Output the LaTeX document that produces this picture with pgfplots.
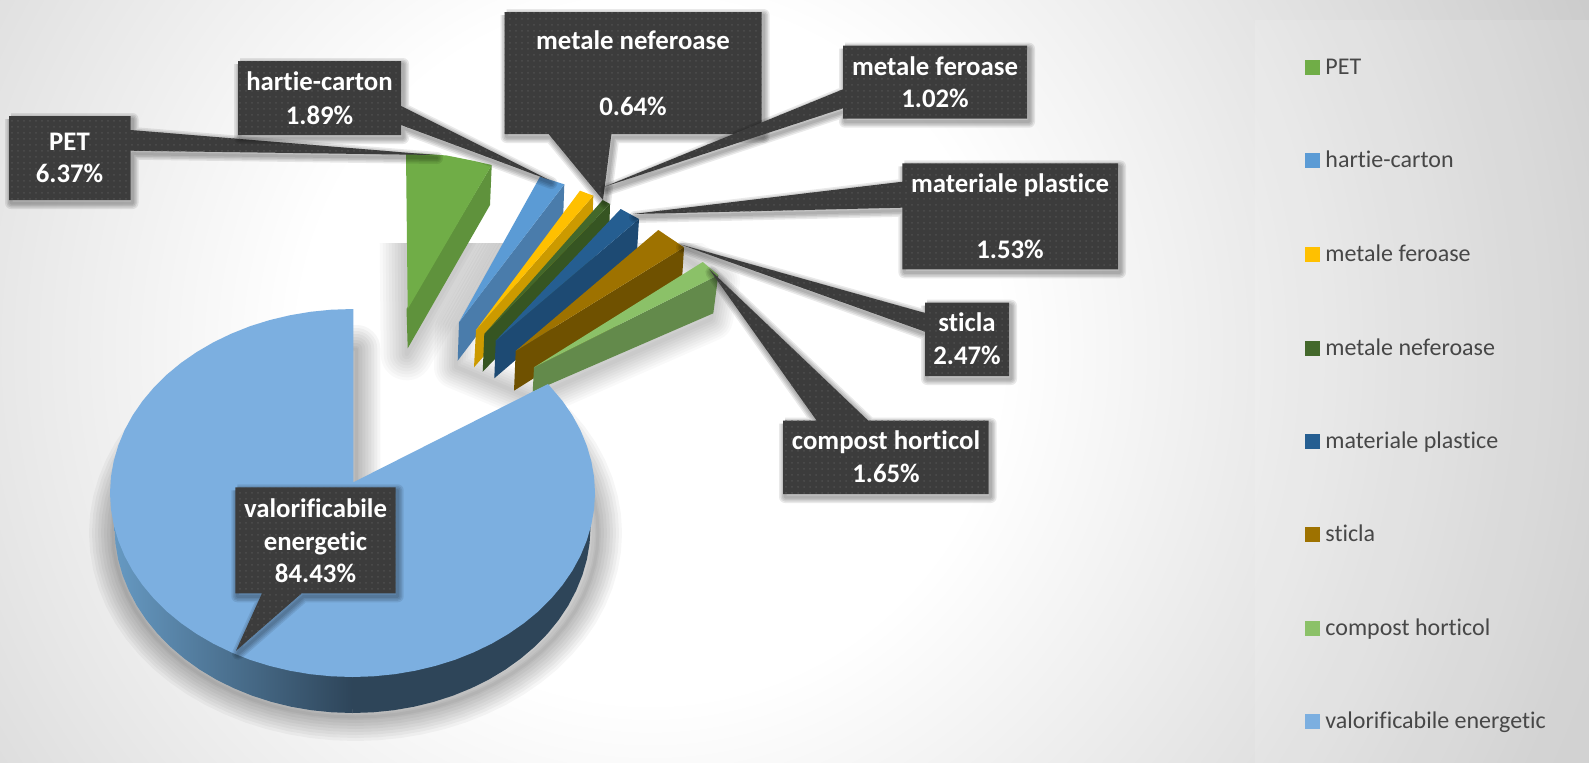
\documentclass[border=0pt]{standalone}
\usepackage{pgfplots}
\pgfplotsset{compat=1.18}
\usepackage{pgfplotstable}
\usepackage{fontspec}
\setmainfont[Ligatures=NoCommon]{Carlito}
\usetikzlibrary{patterns}
\pgfdeclareradialshading{bgs}{\pgfpointorigin}{rgb(0bp)=(1,1,1); rgb(7.3bp)=(1,1,1); rgb(20.8bp)=(.8,.8,.8); rgb(50bp)=(.8,.8,.8)}
\pgfdeclarehorizontalshading{sideg}{100bp}{rgb(0bp)=(.40,.60,.76); rgb(25bp)=(.40,.60,.76); rgb(75bp)=(.18,.27,.35); rgb(100bp)=(.18,.27,.35)}
\definecolor{cbg}{HTML}{3C3C3C}
\definecolor{cdot}{HTML}{4E4E4E}
\definecolor{bigtopc}{HTML}{7CAFE0}
\definecolor{bigside}{HTML}{2E4559}
\definecolor{HTMLgreen}{HTML}{70AD47}
\definecolor{HTMLgreenS}{HTML}{5F923C}
\definecolor{HTMLblue}{HTML}{5B9BD5}
\definecolor{HTMLblueS}{HTML}{4A7CAB}
\definecolor{HTMLyel}{HTML}{FFC000}
\definecolor{HTMLyelS}{HTML}{CC9A00}
\definecolor{HTMLdg}{HTML}{43682B}
\definecolor{HTMLdgS}{HTML}{365522}
\definecolor{HTMLdb}{HTML}{255E91}
\definecolor{HTMLdbS}{HTML}{1D4A73}
\definecolor{HTMLbr}{HTML}{9E7200}
\definecolor{HTMLbrS}{HTML}{6F5100}
\definecolor{HTMLlg}{HTML}{8BC168}
\definecolor{HTMLlgS}{HTML}{638A4B}
\definecolor{legt}{HTML}{474747}
\pgfplotstableread{
x y
548 384
562.5 401
572.3 415.2
580.4 430.1
586.7 445.4
591.3 461.1
594.1 477
595 493
594.1 509
591.3 524.9
586.7 540.6
580.4 555.9
572.3 570.8
562.5 585
551.2 598.5
538.4 611.3
524 623.1
508.4 633.9
491.6 643.7
473.75 652.3
455 659.8
435.4 665.9
415.3 670.7
394.6 674.2
373.6 676.3
352.5 677
331.4 676.3
310.4 674.2
289.7 670.7
269.6 665.9
250 659.8
231.25 652.3
213.4 643.7
196.6 633.9
181 623.1
166.7 611.3
153.8 598.5
142.5 585
132.7 570.8
124.6 555.9
118.3 540.6
113.7 524.9
110.9 509
110 493
110.9 477
113.7 461.1
118.3 445.4
124.6 430.1
132.7 415.2
142.5 401
153.8 387.5
166.7 374.7
181 362.9
196.6 352.1
213.4 342.3
231.25 333.7
250 326.2
269.6 320.1
289.7 315.3
310.4 311.8
331.4 309.7
353.3 309
353.3 482.3
548 384
}\bigtop
\pgfplotstableread{
x y
406 154
420 153.5
446.7 155.5
473 160.7
491.7 165
490 205
407.7 348.3
406 154
}\greenhull
\pgfplotstableread{
x y
540 177
564 184
640 219
720 275
713 313
533 392
458 361
459 322
540 177
}\grouphull
\pgfplotstableread{
x y
9 116
130.5 116
130.5 130
435 155
130.5 150.7
130.5 200
9 200
9 116
}\cPET
\pgfplotstableread{
x y
238 61
401 61
401 106
549.4 180
401 125
401 135
238 135
238 61
}\cHartie
\pgfplotstableread{
x y
504.5 12
761.6 12
761.6 134
611.4 134
603 200
548.6 134
504.5 134
504.5 12
}\cNef
\pgfplotstableread{
x y
843 45.7
1027 45.7
1027 118.7
843 118.7
843 108.3
604.5 186.7
843 89.3
843 45.7
}\cFer
\pgfplotstableread{
x y
902.4 163.3
1118 163.3
1118 269.3
902.4 269.3
902.4 207.7
633 214
902.4 181.7
902.4 163.3
}\cPla
\pgfplotstableread{
x y
925 302.7
1009 302.7
1009 376
925 376
925 331.7
680 244.3
925 313
925 302.7
}\cSti
\pgfplotstableread{
x y
783 420.7
816.7 420.7
709.3 269.3
868.3 420.7
988.7 420.7
988.7 494
783 494
783 420.7
}\cCom
\pgfplotstableread{
x y
235.3 487.3
395.7 487.3
395.7 593.3
301.7 593.3
236 650.7
262 593.3
235.3 593.3
235.3 487.3
}\cVal
\newcommand{\softsh}[5]{%
  \pgfplotsinvokeforeach{#5}{%
    \addplot[forget plot,no marks,fill=none,draw=black,line join=round,line width=##1pt,opacity=#4]
      table[x expr=\thisrow{x}+#2,y expr=\thisrow{y}+#3]{#1};
  }%
}
\newcommand{\callout}[1]{%
  \softsh{#1}{2}{3}{0.085}{6,4.5,3,1.5}%
  \addplot[forget plot,no marks,fill=cbg,draw=none] table[x=x,y=y]{#1};
  \addplot[forget plot,no marks,pattern=dots,pattern color=cdot,draw=none] table[x=x,y=y]{#1};
}
\newcommand{\lab}[3]{\node[anchor=base,text=white,inner sep=0pt,font=\fontsize{13.4}{16}\selectfont\bfseries] at (axis cs:#1,#2) {#3};}
\newcommand{\legitem}[3]{%
  \addplot[forget plot,only marks,mark=square*,mark size=3.5pt,mark options={fill=#3,draw=#3,line width=0pt}] coordinates {(1312,#1)};
  \node[anchor=base west,text=legt,inner sep=0pt,font=\fontsize{12}{14}\selectfont] at (axis cs:1325,#1+7) {#2};
}
\begin{document}
\begin{tikzpicture}
\begin{axis}[
  scale only axis, width=794.5pt, height=381.5pt,
  xmin=0, xmax=1589, ymin=0, ymax=763, y dir=reverse,
  axis lines=none, clip=true]
% background
\addplot[forget plot,no marks,draw=none,shade,shading=bgs] coordinates {(-550,-850)(1850,-850)(1850,1550)(-550,1550)};
% legend panel
\addplot[forget plot,no marks,draw=none,fill=white,fill opacity=0.12] coordinates {(1255,20)(1595,20)(1595,770)(1255,770)};
% shadows
\softsh{\bigtop}{3}{40}{0.036}{24,21,18,15,12,9,6,3,1.5}
\softsh{\greenhull}{-1}{6}{0.022}{26,23,20,17,14,11,8,5,2}
\softsh{\grouphull}{-2}{6}{0.022}{22,19.5,17,14.5,12,9.5,7,4.5,2}
\addplot[forget plot,no marks,draw=none,fill=white] coordinates {(368,120)(745,120)(745,243)(368,243)};
% PET wedge
\addplot[forget plot,no marks,draw=none,fill=HTMLgreenS] coordinates {(491.7,165)(490,205)(407.7,348.3)(406.5,309)};
\addplot[forget plot,no marks,draw=none,fill=HTMLgreen] coordinates {(406,154)(420,153.5)(446.7,155.5)(473,160.7)(491.7,165)(407.7,309)};
% hartie-carton
\addplot[forget plot,no marks,draw=none,fill=HTMLblueS] coordinates {(564.3,184.3)(563,222)(457.7,360.7)(459,322.3)};
\addplot[forget plot,no marks,draw=none,fill=HTMLblue] coordinates {(540,176.7)(564.3,184.3)(459,322.3)};
% metale feroase
\addplot[forget plot,no marks,draw=none,fill=HTMLyelS] coordinates {(593.3,195.7)(592,233)(474,367.3)(476,330)};
\addplot[forget plot,no marks,draw=none,fill=HTMLyel] coordinates {(580,190.7)(593.3,195.7)(476,330)};
% metale neferoase
\addplot[forget plot,no marks,draw=none,fill=HTMLdgS] coordinates {(610,204)(609,241.7)(482.7,371.7)(484.3,334)};
\addplot[forget plot,no marks,draw=none,fill=HTMLdg] coordinates {(602.7,200)(610,204)(484.3,334)};
% materiale plastice
\addplot[forget plot,no marks,draw=none,fill=HTMLdbS] coordinates {(639,219)(636.7,256)(494.3,378.3)(495.7,340.7)};
\addplot[forget plot,no marks,draw=none,fill=HTMLdb] coordinates {(620.7,209)(639,219)(495.7,340.7)};
% sticla
\addplot[forget plot,no marks,draw=none,fill=HTMLbrS] coordinates {(684,247.3)(681.7,285)(514,390.7)(515.7,351)};
\addplot[forget plot,no marks,draw=none,fill=HTMLbr] coordinates {(658.3,230)(684,247.3)(515.7,351)};
% compost horticol
\addplot[forget plot,no marks,draw=none,fill=HTMLlgS] coordinates {(718.3,275)(713.3,313.3)(532.7,391.7)(534,367.3)};
\addplot[forget plot,no marks,draw=none,fill=HTMLlg] coordinates {(702.7,262)(718.3,275)(534,367.3)};
% big slice: side
\addplot[forget plot,no marks,draw=none,fill=bigside] coordinates {(590.5,527)(589.6,543.2)(586.9,559.3)(582.4,575.1)(576.1,590.6)(568.2,605.6)(558.6,620)(547.5,633.7)(534.8,646.6)(520.8,658.5)(505.5,669.5)(489,679.4)(471.5,688.1)(453.1,695.6)(433.9,701.8)(414.1,706.7)(393.8,710.2)(373.2,712.3)(352.5,713)(345,600)(345,527)};
\addplot[forget plot,no marks,draw=none,shade,shading=sideg] coordinates {(352.5,713)(331.8,712.3)(311.2,710.2)(290.9,706.7)(271.1,701.8)(251.9,695.6)(233.5,688.1)(216,679.4)(199.5,669.5)(184.2,658.5)(170.2,646.6)(157.5,633.7)(146.4,620)(136.8,605.6)(128.9,590.6)(122.6,575.1)(118.1,559.3)(115.4,543.2)(114.5,527)(352.5,527)};
% big slice: top
\addplot[forget plot,no marks,draw=none,fill=bigtopc] table[x=x,y=y]{\bigtop};
% callouts
\callout{\cPET}
\callout{\cHartie}
\callout{\cNef}
\callout{\cFer}
\callout{\cPla}
\callout{\cSti}
\callout{\cCom}
\callout{\cVal}
\lab{69.5}{150.7}{PET}
\lab{69.5}{182.7}{6.37\%}
\lab{319.5}{90.7}{hartie-carton}
\lab{319.5}{124}{1.89\%}
\lab{633}{49}{metale neferoase}
\lab{633}{115}{0.64\%}
\lab{935}{75}{metale feroase}
\lab{935}{107.7}{1.02\%}
\lab{1010}{192.7}{materiale plastice}
\lab{1010}{258.3}{1.53\%}
\lab{967}{331.7}{sticla}
\lab{967}{364.3}{2.47\%}
\lab{886}{449}{compost horticol}
\lab{886}{482.3}{1.65\%}
\lab{315.5}{517}{valorificabile}
\lab{315.5}{550}{energetic}
\lab{315.5}{582}{84.43\%}
% legend
\legitem{67}{PET}{HTMLgreen}
\legitem{160.7}{hartie-carton}{HTMLblue}
\legitem{254.4}{metale feroase}{HTMLyel}
\legitem{348}{metale neferoase}{HTMLdg}
\legitem{441.5}{materiale plastice}{HTMLdb}
\legitem{534}{sticla}{HTMLbr}
\legitem{628}{compost horticol}{HTMLlg}
\legitem{721}{valorificabile energetic}{bigtopc}
\end{axis}
\end{tikzpicture}
\end{document}
